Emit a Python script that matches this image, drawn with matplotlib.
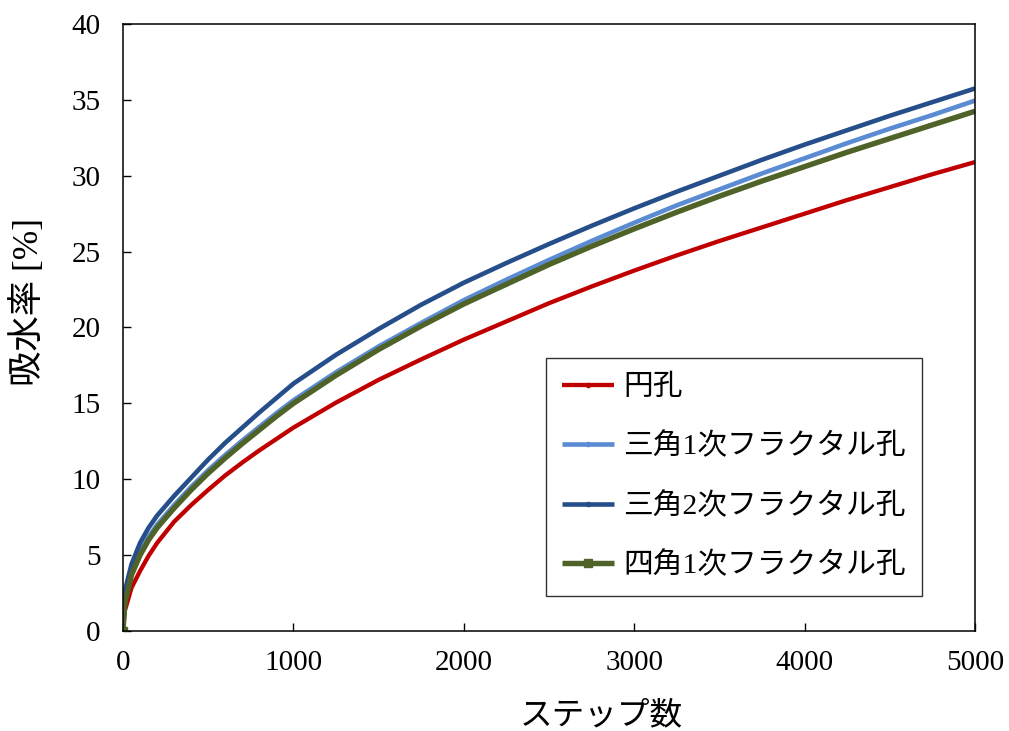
import matplotlib
matplotlib.use("Agg")
import matplotlib.pyplot as plt

steps = [0, 10, 50, 100, 150, 200, 300, 400, 500, 600, 700, 800, 900, 1000,
         1250, 1500, 1750, 2000, 2250, 2500, 2750, 3000, 3250, 3500, 3750,
         4000, 4250, 4500, 4750, 5000]
circle = [0, 1.3, 2.85, 3.95, 4.95, 5.8, 7.2, 8.3, 9.3, 10.25, 11.1, 11.9, 12.65, 13.4,
          15.05, 16.55, 17.9, 19.2, 20.4, 21.6, 22.7, 23.75, 24.75, 25.7, 26.6,
          27.5, 28.4, 29.25, 30.1, 30.9]
tri1 = [0, 2.0, 3.9, 5.2, 6.2, 7.0, 8.3, 9.5, 10.6, 11.6, 12.55, 13.45, 14.35, 15.2,
        17.05, 18.75, 20.3, 21.8, 23.15, 24.45, 25.7, 26.9, 28.05, 29.1, 30.15,
        31.15, 32.15, 33.1, 34.0, 34.95]
tri2 = [0, 2.6, 4.4, 5.8, 6.8, 7.6, 8.9, 10.1, 11.3, 12.4, 13.4, 14.4, 15.35, 16.3,
        18.2, 19.9, 21.5, 22.95, 24.25, 25.5, 26.7, 27.85, 28.95, 30.0, 31.05,
        32.05, 33.0, 33.95, 34.85, 35.75]
sq1 = [0, 1.8, 3.7, 5.0, 6.0, 6.8, 8.1, 9.3, 10.4, 11.4, 12.35, 13.25, 14.15, 15.0,
       16.85, 18.55, 20.1, 21.55, 22.85, 24.15, 25.35, 26.5, 27.6, 28.65, 29.65,
       30.6, 31.55, 32.45, 33.35, 34.25]

labels = ["円孔", "三角1次フラクタル孔", "三角2次フラクタル孔", "四角1次フラクタル孔"]
xticks = [0, 1000, 2000, 3000, 4000, 5000]
yticks = [0, 5, 10, 15, 20, 25, 30, 35, 40]

MIX = ['Liberation Serif', 'Noto Sans CJK JP', 'DejaVu Sans']

fig = plt.figure(figsize=(10.09, 7.31), dpi=100)
ax = fig.add_axes([0.1219, 0.1368, 0.8444, 0.8304])

series = [
    (circle, '#C00000', 3.1, 'o', 3),
    (tri1, '#5B8BD3', 3.3, 'o', 3),
    (tri2, '#254E8A', 3.3, 'o', 3),
    (sq1, '#4F6228', 3.9, 's', 5.5),
]
for (vals, col, lw, mk, ms), lab in zip(series, labels):
    ax.plot(steps, vals, color=col, lw=lw, marker=mk, ms=ms,
            markevery=[0], label=lab, solid_capstyle='butt')

ax.set_xlim(0, 5000)
ax.set_ylim(0, 40)
ax.set_xticks(xticks)
ax.set_yticks(yticks)
ax.tick_params(direction='in', length=6, width=1, labelsize=21)
ax.tick_params(axis='x', pad=14)
ax.tick_params(axis='y', pad=16)
for lab in ax.get_xticklabels() + ax.get_yticklabels():
    lab.set_fontfamily('Liberation Serif')
for s in ax.spines.values():
    s.set_linewidth(1.1)
    s.set_color('black')

ax.set_xlabel("ステップ数", fontsize=23.5, family=['Noto Sans CJK JP'])
ax.xaxis.set_label_coords(0.561, -0.112)
ax.set_ylabel("吸水率 [%]", fontsize=25.5, family=MIX)
ax.yaxis.set_label_coords(-0.090, 0.542)

leg = ax.legend(loc='upper left', bbox_to_anchor=(0.4965, 0.4498),
                prop={'family': MIX, 'size': 21.4}, frameon=True, fancybox=False,
                edgecolor='black', borderpad=0.55, labelspacing=1.07,
                handlelength=1.75, handletextpad=0.3, numpoints=1,
                borderaxespad=0)
leg.get_frame().set_linewidth(1.0)

fig.savefig("out.png", dpi=100)
